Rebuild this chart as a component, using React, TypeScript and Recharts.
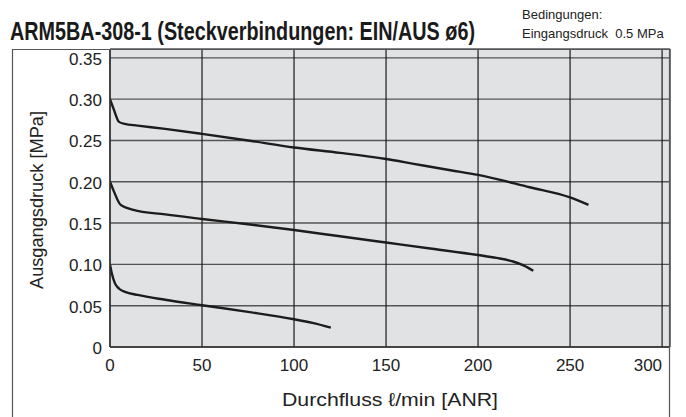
import { LineChart, Line, XAxis, YAxis, CartesianGrid } from 'recharts'

// Durchfluss [l/min ANR] vs Ausgangsdruck [MPa], one curve per set pressure
const flowTicks = [0, 50, 100, 150, 200, 250, 300]
const pressureTicks = [0, 0.05, 0.1, 0.15, 0.2, 0.25, 0.3, 0.35]

const flow30 = [0, 2, 4.9, 8, 15, 30, 50, 75, 100, 125, 150, 165, 185, 200, 228, 250, 260]
const pressure30 = [0.3, 0.288, 0.2725, 0.27, 0.268, 0.264, 0.258, 0.25, 0.2415, 0.235, 0.2275, 0.2217, 0.214, 0.2084, 0.1934, 0.181, 0.172]

const flow20 = [0, 2, 5.8, 12.7, 30, 50, 75, 100, 125, 150, 175, 200, 210, 219, 225, 230]
const pressure20 = [0.2, 0.189, 0.172, 0.166, 0.1605, 0.155, 0.1485, 0.1416, 0.134, 0.1265, 0.119, 0.1113, 0.1078, 0.1035, 0.0985, 0.0922]

const flow10 = [0, 1, 2.7, 5, 8.2, 15, 30, 50, 75, 100, 110, 120]
const pressure10 = [0.1, 0.089, 0.077, 0.0705, 0.0667, 0.063, 0.0572, 0.0506, 0.0425, 0.0336, 0.0292, 0.0235]

const toPoints = (flow: number[], pressure: number[]) =>
  flow.map((f, i) => ({ flow: f, pressure: pressure[i] }))

const curves = [
  { key: 'p30', points: toPoints(flow30, pressure30) },
  { key: 'p20', points: toPoints(flow20, pressure20) },
  { key: 'p10', points: toPoints(flow10, pressure10) },
]

const FONT = '"Liberation Sans", Arial, sans-serif'
const TEXT = '#222222'

// eslint-disable-next-line @typescript-eslint/no-explicit-any
function FlowTick({ x, y, payload }: any) {
  const last = payload.value === flowTicks[flowTicks.length - 1]
  return (
    <text
      x={x}
      y={y}
      dy={16}
      textAnchor={last ? 'end' : 'middle'}
      fill={TEXT}
      fontSize={17}
      fontFamily={FONT}
    >
      {payload.value}
    </text>
  )
}

export default function App() {
  return (
    <div style={{ position: 'absolute', left: 0, top: 0, width: 686, height: 417, background: '#fff' }}>
      <LineChart
        width={686}
        height={417}
        margin={{ top: 49, right: 16, bottom: 40, left: 50 }}
      >
        <CartesianGrid fill="#e1e2e4" vertical={false} stroke="#555555" strokeWidth={1.4} />
        <CartesianGrid horizontal={false} stroke="#1a1a1a" strokeWidth={1.2} />
        <XAxis
          type="number"
          dataKey="flow"
          domain={[0, 304.3]}
          ticks={flowTicks}
          allowDataOverflow
          height={30}
          tickLine={false}
          stroke="#333333"
          strokeWidth={1.4}
          tick={<FlowTick />}
        />
        <YAxis
          type="number"
          dataKey="pressure"
          domain={[0, 0.3607]}
          ticks={pressureTicks}
          allowDataOverflow
          width={60}
          tickLine={false}
          stroke="#333333"
          strokeWidth={1.4}
          tickFormatter={(v: number) => (v === 0 ? '0' : v.toFixed(2))}
          tick={{ fill: TEXT, fontSize: 17, fontFamily: FONT, dy: 1 }}
        />
        {curves.map((c) => (
          <Line
            key={c.key}
            data={c.points}
            dataKey="pressure"
            type="monotone"
            stroke="#1c1c1c"
            strokeWidth={2.4}
            dot={false}
            activeDot={false}
            isAnimationActive={false}
          />
        ))}
      </LineChart>
      <svg
        width={686}
        height={417}
        style={{ position: 'absolute', left: 0, top: 0, pointerEvents: 'none' }}
      >
        <path d="M12.5 417 V49.5 H669.5 V417" fill="none" stroke="#555555" strokeWidth={1.2} />
        <text
          x={10}
          y={40}
          fontFamily={FONT}
          fontWeight="bold"
          fontSize={25}
          fill="#1a1a1a"
          textLength={465}
          lengthAdjust="spacingAndGlyphs"
        >
          ARM5BA-308-1 (Steckverbindungen: EIN/AUS ø6)
        </text>
        {/* conditions note, two lines in one text block */}
        <text x={522} y={19} fontFamily={FONT} fontSize={13} fill={TEXT} xmlSpace="preserve">
          <tspan x={522} y={19}>Bedingungen:</tspan>
          <tspan x={522} y={38}>Eingangsdruck  0.5 MPa</tspan>
        </text>
        <text
          x={0}
          y={0}
          transform="translate(43 200) rotate(-90)"
          textAnchor="middle"
          fontFamily={FONT}
          fontSize={19}
          fill={TEXT}
          textLength={178}
          lengthAdjust="spacingAndGlyphs"
        >
          Ausgangsdruck [MPa]
        </text>
        <text
          x={390}
          y={406}
          textAnchor="middle"
          fontFamily={FONT}
          fontSize={19}
          fill={TEXT}
          textLength={216}
          lengthAdjust="spacingAndGlyphs"
        >
          Durchfluss ℓ/min [ANR]
        </text>
      </svg>
    </div>
  )
}
